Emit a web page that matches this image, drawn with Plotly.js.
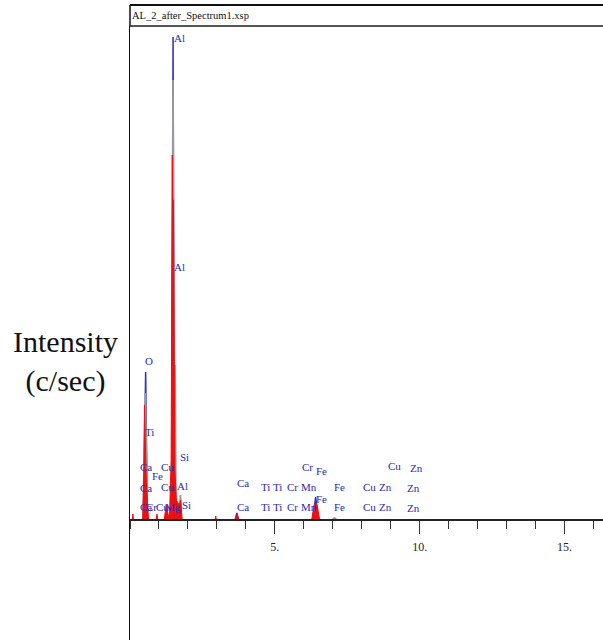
<!DOCTYPE html>
<html>
<head>
<meta charset="utf-8">
<script src="https://cdn.plot.ly/plotly-3.0.1.min.js"></script>
<style>html,body{margin:0;padding:0;background:#fff;}#chart{width:603px;height:640px;}</style>
</head>
<body>
<div id="chart"></div>
<script>
// Spectrum (energy in keV, intensity in c/sec)
const blueEnergy = [0, 0.47, 0.54, 0.60, 1.20, 1.25, 1.30, 1.44, 1.487, 1.53, 3.63, 3.69, 3.75, 6.30, 6.41, 6.50, 16.4];
const blueCounts = [0, 0, 1480, 0, 0, 80, 0, 0, 4830, 0, 0, 70, 0, 0, 230, 0, 0];

const grayEnergy = [0, 0.45, 0.53, 0.60, 1.44, 1.485, 1.52, 1.555, 1.59, 1.70, 1.74, 1.78, 6.98, 7.06, 7.14, 16.4];
const grayCounts = [0, 0, 1270, 0, 0, 4400, 800, 1550, 0, 0, 250, 0, 0, 20, 0, 0];

const redEnergy = [0, 0.08, 0.10, 0.12, 0.44, 0.48, 0.50, 0.52, 0.55, 0.58, 0.61, 0.64, 0.90, 0.93, 0.96,
                   1.18, 1.25, 1.30, 1.36, 1.42, 1.45, 1.46, 1.47, 1.50, 1.52, 1.55, 1.60, 1.70, 1.75, 1.80,
                   2.94, 2.96, 2.98, 3.62, 3.69, 3.76, 6.27, 6.36, 6.42, 6.46, 6.55, 16.4];
const redCounts = [0, 0, 60, 0, 0, 500, 1150, 700, 500, 300, 120, 0, 0, 60, 0,
                   0, 150, 80, 0, 600, 2000, 3650, 3200, 3200, 1400, 500, 200, 150, 200, 0,
                   0, 40, 0, 0, 60, 0, 0, 150, 170, 150, 0, 0];

// Element line labels
const labelText = ["Al","Al","O","Ti","Si","Ca","Fe","Cu","Ca","Cu","Al",
                   "Ca","Cr","Cu","Mg","Si",
                   "Ca","Ca","Ti","Ti","Cr","Mn","Ti","Ti","Cr","Mn",
                   "Cr","Fe","Fe","Fe","Fe","Cu","Cu","Zn","Zn","Cu","Zn","Zn","Zn"];
const labelEnergy = [1.51,1.51,0.53,0.51,1.72,0.34,0.75,1.06,0.34,1.06,1.61,
                     0.34,0.54,0.89,1.20,1.78,
                     3.69,3.69,4.51,4.93,5.41,5.90,4.51,4.93,5.41,5.90,
                     5.95,6.42,6.42,7.06,7.06,8.04,8.04,8.60,8.60,8.90,9.57,9.57,9.66];
const labelCounts = [4820,2530,1590,880,630,530,440,530,320,330,340,
                     130,130,130,130,150,
                     370,130,330,330,330,330,130,130,130,130,
                     530,490,210,330,130,330,130,330,130,540,320,120,520];

const xTickVals = [5, 10, 15];
const xTickText = ["5.", "10.", "15."];
const fileTitle = "AL_2_after_Spectrum1.xsp";
const yTitle = "Intensity<br>(c/sec)";

const SERIF = "Liberation Serif";

const traces = [
  {x: blueEnergy, y: blueCounts, type: "scatter", mode: "lines",
   line: {color: "#3030c8", width: 1.5}, hoverinfo: "skip"},
  {x: grayEnergy, y: grayCounts, type: "scatter", mode: "lines",
   line: {color: "#9a9a9a", width: 1.8}, hoverinfo: "skip"},
  {x: redEnergy, y: redCounts, type: "scatter", mode: "lines", fill: "tozeroy",
   fillcolor: "#ee1010", line: {color: "#ee1010", width: 1}, hoverinfo: "skip"}
];

const annotations = labelText.map((t, i) => ({
  x: labelEnergy[i], y: labelCounts[i], xref: "x", yref: "y",
  text: t, showarrow: false, xanchor: "left", yanchor: "middle",
  borderpad: 0, xshift: -1,
  font: {family: SERIF, size: 11, color: "#2a2ab0"}
}));
annotations.push({
  x: 0.002, y: 1.017, xref: "paper", yref: "paper", text: fileTitle,
  showarrow: false, xanchor: "left", yanchor: "middle", borderpad: 0,
  font: {family: SERIF, size: 10.5, color: "#111"}
});
annotations.push({
  x: -0.1374, y: 0.4528, xref: "paper", yref: "paper", text: yTitle,
  showarrow: false, xanchor: "center", yanchor: "middle", align: "center",
  font: {family: SERIF, size: 30, color: "#111"}
});

const layout = {
  width: 603, height: 640,
  margin: {l: 130, r: 0, t: 26, b: 0, pad: 0},
  paper_bgcolor: "#fff", plot_bgcolor: "#fff",
  showlegend: false,
  font: {family: SERIF},
  xaxis: {
    range: [0, 16.33], anchor: "free", position: 0.19544,
    showgrid: false, zeroline: false,
    showline: true, linecolor: "#222", linewidth: 2,
    tickmode: "array", tickvals: xTickVals, ticktext: xTickText,
    ticks: "outside", ticklen: 13, tickwidth: 1, tickcolor: "#333",
    ticklabelstandoff: 3,
    minor: {tickmode: "linear", tick0: 0, dtick: 1, ticks: "outside", ticklen: 8, tickwidth: 1, tickcolor: "#333", showgrid: false},
    tickfont: {family: SERIF, size: 12, color: "#222"}
  },
  yaxis: {
    range: [-1200, 4940], showgrid: false, zeroline: false,
    showticklabels: false, ticks: "",
    showline: true, linecolor: "#111", linewidth: 1.5
  },
  shapes: [
    {type: "line", xref: "paper", yref: "paper", x0: 0, x1: 1, y0: 1.0342, y1: 1.0342, line: {color: "#111", width: 2}},
    {type: "line", xref: "paper", yref: "paper", x0: 0, x1: 1, y0: 1.0, y1: 1.0, line: {color: "#555", width: 2}},
    {type: "line", xref: "paper", yref: "paper", x0: 0, x1: 0, y0: 1.0, y1: 1.0342, line: {color: "#111", width: 1.5}}
  ],
  annotations: annotations
};

Plotly.newPlot("chart", traces, layout, {displayModeBar: false, staticPlot: true});
</script>
</body>
</html>
